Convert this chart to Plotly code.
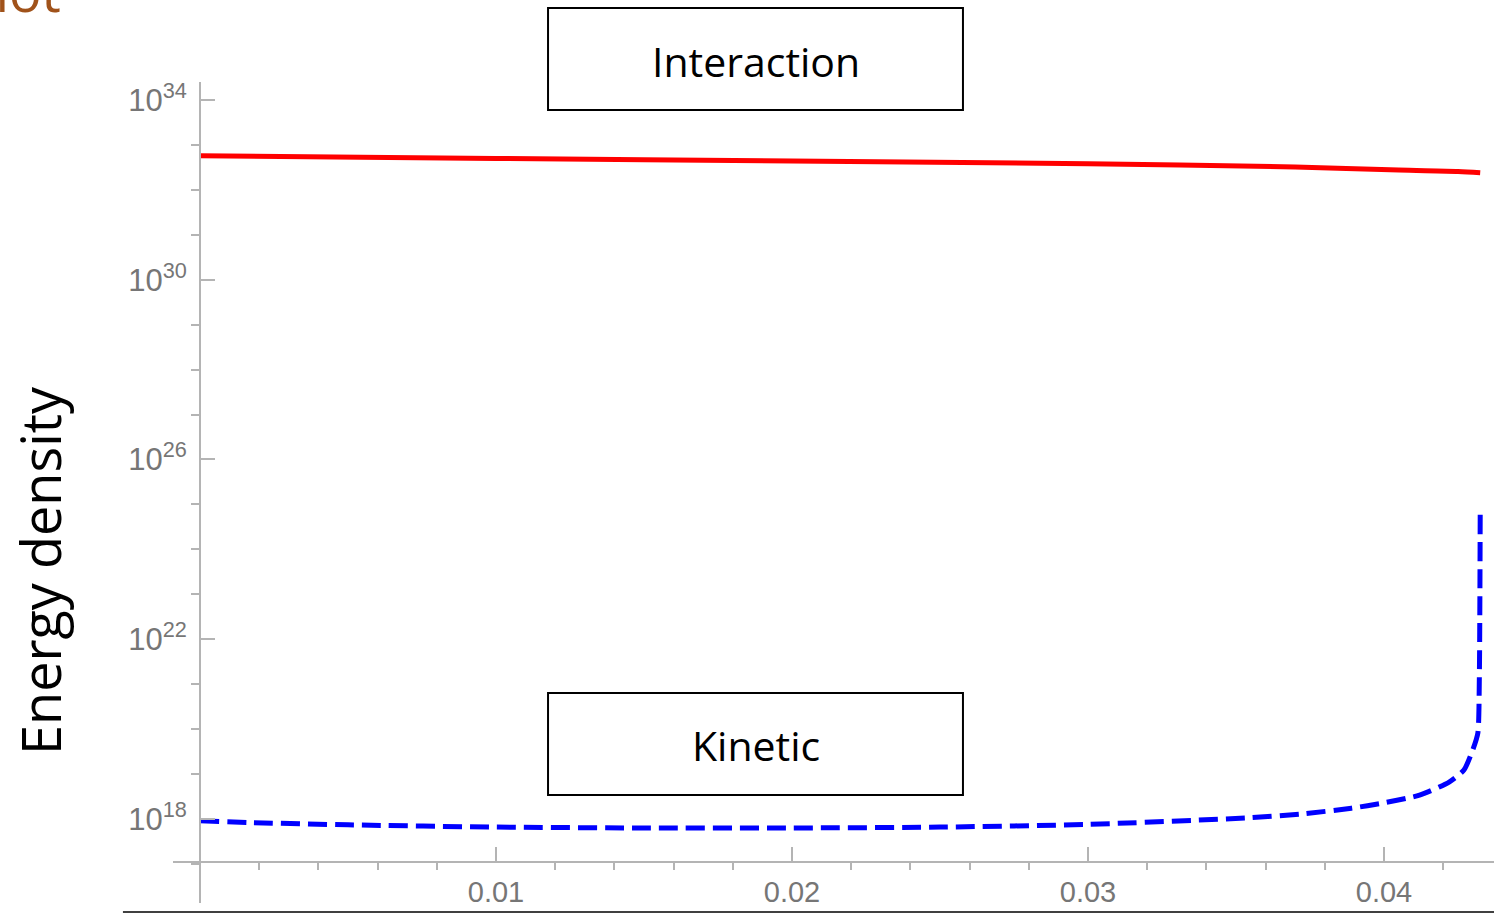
import plotly.graph_objects as go

# Interaction energy density (red, solid)
interaction_x = [0.0, 0.01, 0.02, 0.03, 0.037, 0.0405, 0.0425, 0.04325]
interaction_y = [5.75e32, 5.01e32, 4.37e32, 3.80e32, 3.24e32, 2.75e32, 2.57e32, 2.40e32]

# Kinetic energy density (blue, dashed)
kinetic_x = [0.0, 0.0017, 0.005, 0.01, 0.015, 0.02, 0.025, 0.03, 0.0355, 0.0372,
             0.0389, 0.04, 0.0412, 0.0422, 0.0427, 0.0430, 0.04317, 0.04322, 0.04325]
kinetic_y = [9.12e17, 8.32e17, 7.41e17, 6.61e17, 6.31e17, 6.31e17, 6.61e17, 7.59e17,
             1.07e18, 1.29e18, 1.74e18, 2.29e18, 3.39e18, 6.61e18, 1.23e19, 3.47e19,
             8.13e19, 1.26e21, 6.31e24]

# Axis ticks
x_major = [0.01, 0.02, 0.03, 0.04]
x_major_text = ["0.01", "0.02", "0.03", "0.04"]
x_minor = [0.002, 0.004, 0.006, 0.008, 0.012, 0.014, 0.016, 0.018, 0.022, 0.024,
           0.026, 0.028, 0.032, 0.034, 0.036, 0.038, 0.042]
y_major_exp = [18, 22, 26, 30, 34]
y_minor_exp = [e for e in range(17, 35) if e not in y_major_exp]

AXIS_GREY = "#b4b4b4"
LABEL_GREY = "#767676"

fig = go.Figure()
fig.add_trace(go.Scatter(x=interaction_x, y=interaction_y, mode="lines",
                         line=dict(color="#ff0000", width=5, shape="spline",
                                   smoothing=0.8),
                         showlegend=False))
fig.add_trace(go.Scatter(x=kinetic_x, y=kinetic_y, mode="lines",
                         line=dict(color="#0000ff", width=5, dash="19px,8px",
                                   shape="spline", smoothing=0.6),
                         showlegend=False))

fig.update_layout(
    width=1494, height=913,
    margin=dict(l=173, r=0, t=82, b=10),
    paper_bgcolor="white", plot_bgcolor="white",
    xaxis=dict(
        range=[-0.000912, 0.043716],
        showgrid=False, zeroline=False,
        showline=True, linecolor=AXIS_GREY, linewidth=2,
        ticks="inside", ticklen=14, tickwidth=1.5, tickcolor=AXIS_GREY,
        tickvals=x_major, ticktext=x_major_text,
        minor=dict(tickvals=x_minor, ticklen=7, tickwidth=1.5, tickcolor=AXIS_GREY),
        tickfont=dict(family="Liberation Sans", size=29, color=LABEL_GREY),
        ticklabelstandoff=4,
        anchor="free", position=0.0499,
    ),
    yaxis=dict(
        type="log",
        range=[16.131, 34.40],
        showgrid=False, zeroline=False,
        showline=True, linecolor=AXIS_GREY, linewidth=2,
        ticks="inside", ticklen=14, tickwidth=1.5, tickcolor=AXIS_GREY,
        tickvals=[10.0 ** e for e in y_major_exp],
        ticktext=[f"10<sup>{e}</sup>" for e in y_major_exp],
        minor=dict(tickvals=[10.0 ** e for e in y_minor_exp], ticklen=8,
                   tickwidth=1.5, tickcolor=AXIS_GREY),
        tickfont=dict(family="Liberation Sans", size=31, color=LABEL_GREY),
        ticklabelstandoff=6,
        anchor="free", position=0.02044,
    ),
)

# Label boxes
box_line = dict(color="black", width=2)
fig.add_shape(type="rect", xref="paper", yref="paper",
              x0=0.2839, x1=0.598, y0=0.9659, y1=1.0901, line=box_line,
              fillcolor="white")
fig.add_shape(type="rect", xref="paper", yref="paper",
              x0=0.2839, x1=0.598, y0=0.1315, y1=0.2558, line=box_line,
              fillcolor="white")
# Rule under the chart
fig.add_shape(type="line", xref="paper", yref="paper",
              x0=-0.0379, x1=1.0, y0=-0.011, y1=-0.011,
              line=dict(color="#404040", width=2))

text_font = dict(family="Open Sans", color="black")
fig.add_annotation(text="Interaction", xref="paper", yref="paper",
                   x=0.441, y=1.0256, xanchor="center", yanchor="middle",
                   showarrow=False, font=dict(text_font, size=41))
fig.add_annotation(text="Kinetic", xref="paper", yref="paper",
                   x=0.441, y=0.1924, xanchor="center", yanchor="middle",
                   showarrow=False, font=dict(text_font, size=41))
fig.add_annotation(text="Energy density", xref="paper", yref="paper",
                   x=-0.1007, y=0.4056, xanchor="center", yanchor="middle",
                   showarrow=False, textangle=-90,
                   font=dict(text_font, size=54))
fig.add_annotation(text="Plot", xref="paper", yref="paper",
                   x=-0.0830, y=1.0630, xanchor="right", yanchor="bottom",
                   showarrow=False,
                   font=dict(family="Open Sans", size=54, color="#a0521a"))

fig.write_html("out.html")
